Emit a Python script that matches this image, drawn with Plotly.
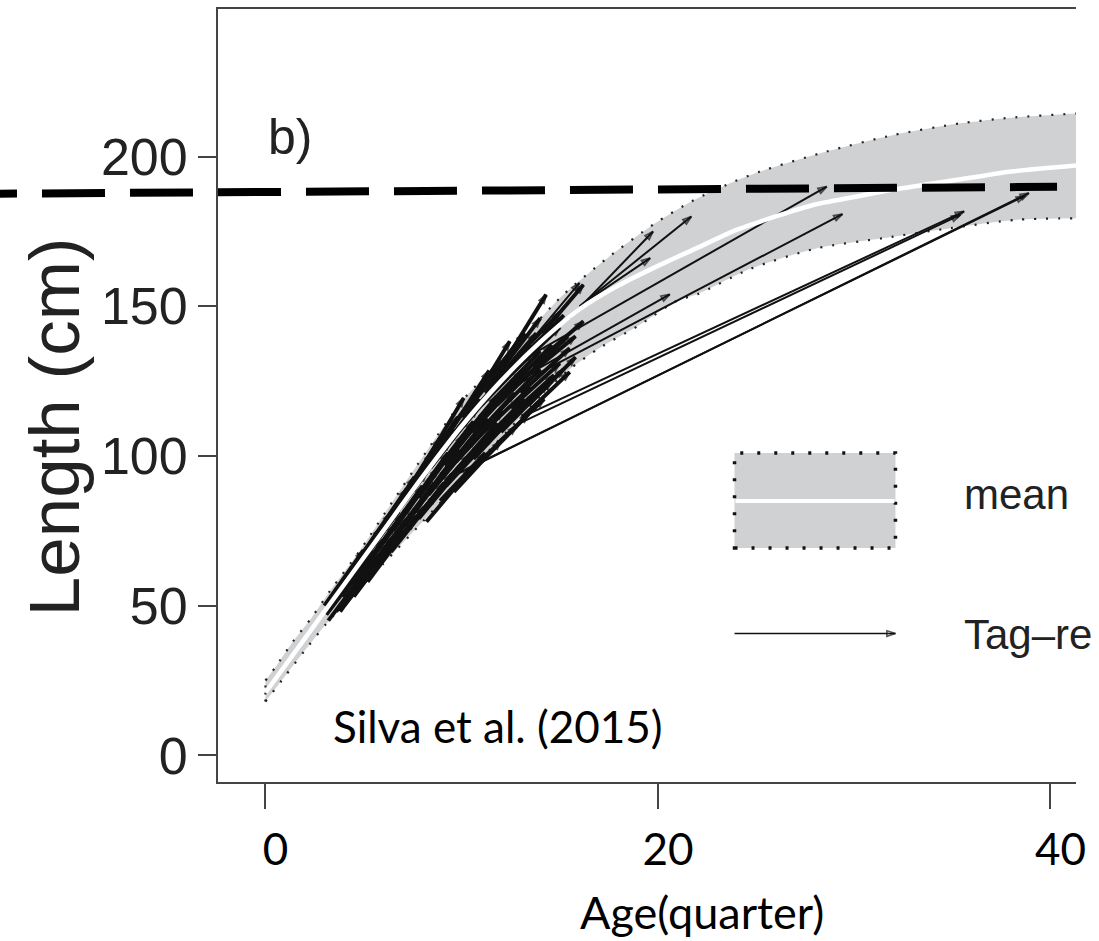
import plotly.graph_objects as go

# ---- growth curve: mean and envelope (age in quarters, length in cm) ----
mean_age = [0, 2, 4, 6, 8, 10, 12, 14, 16, 18, 20, 22, 24, 26, 28, 30, 32, 34, 36, 38, 41.3]
mean_len = [21, 39, 57, 75, 93, 110, 125, 138, 149, 157, 163.5, 169.5, 175.5, 180, 184,
            186.5, 189, 191, 193, 195, 197]

upper_age = [0, 0.5, 1.4, 2.35, 3.3, 4.8, 6.5, 8.2, 10.1, 11.4, 13.3, 15.2, 17.4, 19.8,
             21.7, 23.5, 25.2, 28.6, 32, 35.4, 38, 41.3]
upper_len = [25, 29.4, 38, 46, 55, 68.3, 85, 101.5, 119, 128, 141, 154, 166, 177.5,
             185, 190.6, 195, 201.7, 207.2, 211.1, 213, 214.4]

lower_age = [0, 1, 2, 3.1, 4, 6, 8, 10, 12, 14, 15.5, 17, 19, 21, 22, 24.7, 28.1, 31.5,
             34.9, 38.3, 41.3]
lower_len = [18, 26.5, 35, 44, 50.5, 64, 78, 92, 106, 120, 129, 136, 143.5, 152, 154,
             162.5, 169.4, 172.8, 176.1, 178.9, 179.4]

# ---- tag-recapture records: age/length at release and at recapture ----
release_age = [
    3.0, 4.2, 5.4, 6.6, 7.8, 9.0, 10.2, 11.3, 12.2,
    3.4, 4.8, 6.0, 7.3, 8.5, 9.8, 11.0, 12.4,
    3.1, 4.4, 5.7, 7.0, 8.2, 9.4, 10.7, 12.0,
    3.6, 4.9, 6.3, 7.6, 8.9, 10.3, 11.6, 13.0,
    4.0, 5.3, 6.7, 8.0, 9.4, 10.8, 12.2,
    5.8, 7.2, 8.6, 10.0, 11.4, 12.8,
    8.2, 9.6, 11.0, 12.2,
    9.5, 10.6, 11.8, 12.8,
    3.7, 5.0, 6.2, 7.5, 8.7, 10.0, 11.2, 12.6,
    3.3, 4.6, 5.9, 7.1, 8.4, 9.7, 11.0, 12.3,
    3.9, 5.1, 6.5, 7.8, 9.1, 10.5, 11.8, 13.2,
    4.3, 5.6, 7.0, 8.3, 9.7, 11.1, 12.5,
    6.4, 7.8, 9.2, 10.6, 12.0, 13.4,
    8.9, 10.4, 11.8, 13.1,
    3.2, 3.8, 4.5, 5.2,
    11.5, 12.9, 13.6, 10.9,
    15.5, 16.0, 16.2, 12.5, 12.0, 12.0, 13.0, 12.8, 9.9, 10.2, 14.1,
]
release_len = [
    50, 60, 71, 82, 94, 104, 114, 122, 128,
    52, 63, 75, 87, 98, 109, 118, 127,
    47, 57, 69, 80, 91, 101, 111, 120,
    48, 59, 71, 82, 93, 104, 113, 121,
    50, 60, 71, 82, 93, 103, 112,
    64, 75, 86, 96, 105, 114,
    78, 88, 98, 110,
    110, 119, 127, 133,
    56, 68, 79, 91, 102, 113, 121, 130,
    50, 62, 74, 85, 96, 107, 117, 126,
    53, 63, 75, 86, 97, 108, 117, 126,
    54, 64, 76, 87, 98, 108, 116,
    68, 79, 90, 99, 108, 117,
    85, 95, 104, 113,
    45, 48, 53, 58,
    118, 124, 130, 113,
    146, 150, 151, 124, 128, 121, 112.8, 110.5, 94.4, 95.5, 141,
]
recapture_age = [
    5.0, 6.4, 7.6, 8.9, 10.1, 11.4, 12.45, 14.3, 16.0,
    5.6, 6.9, 8.3, 9.6, 10.9, 12.2, 13.5, 14.8,
    5.3, 6.6, 8.0, 9.3, 10.6, 11.8, 13.1, 14.6,
    5.8, 7.2, 8.6, 9.9, 11.3, 12.7, 14.0, 15.5,
    6.2, 7.6, 9.1, 10.4, 11.8, 13.2, 14.7,
    8.1, 9.5, 11.0, 12.4, 13.8, 15.2,
    10.5, 12.0, 13.4, 14.6,
    12.0, 13.2, 14.0, 15.0,
    5.9, 7.2, 8.5, 9.8, 11.0, 12.4, 13.8, 15.2,
    5.4, 6.8, 8.2, 9.4, 10.8, 12.1, 13.6, 15.0,
    6.0, 7.4, 8.8, 10.1, 11.5, 12.9, 14.3, 15.8,
    6.5, 7.9, 9.3, 10.7, 12.1, 13.5, 15.0,
    8.7, 10.2, 11.6, 13.0, 14.4, 15.8,
    11.2, 12.8, 14.2, 15.5,
    5.6, 6.3, 7.0, 7.7,
    14.0, 15.4, 16.2, 13.4,
    19.75, 21.7, 19.6, 20.6, 28.6, 29.4, 35.6, 35.4, 38.9, 38.7, 16.2,
]
recapture_len = [
    68.5, 81, 93, 106, 119.4, 128.5, 138.3, 153.9, 157.8,
    72, 84, 97, 109, 119, 127.5, 137, 143.5,
    66, 77, 90, 101, 111.5, 120, 128.5, 137,
    67, 79, 91, 102, 112.5, 121, 129, 136,
    68, 78.5, 91, 100.5, 111, 119, 127,
    83, 94, 104, 113, 121, 129,
    96, 105, 114, 125,
    131, 141, 146, 148,
    76, 89, 101, 113, 123, 133, 141, 147,
    68.5, 81.5, 94.5, 105, 116, 125.5, 134.5, 143,
    72, 83.5, 96, 107, 116.5, 125, 133, 140,
    73, 84, 96, 106, 115, 123, 131,
    87, 98, 107, 116, 124, 133,
    101, 110, 119, 128,
    66, 71, 75, 80,
    135, 140, 145, 129,
    175, 180, 166.1, 154, 190, 180.8, 181.7, 180.5, 187.8, 186.9, 157.2,
]

# reference length drawn as a dashed line across the panel (left end, right end)
ref_line_len = [187.5, 189.9]

x_ticks = [0, 20, 40]
y_ticks = [0, 50, 100, 150, 200]

X_RANGE = [-2.42, 41.3]
Y_RANGE = [-8.9, 249.3]

FONT_R = "Liberation Sans, Arial, Helvetica, sans-serif"
FONT_C = "Lato, Carlito, Calibri, sans-serif"
BAND_FILL = "rgb(208,209,211)"
INK = "#111111"

fig = go.Figure()

# envelope fill between lower and upper curves
fig.add_trace(go.Scatter(x=lower_age, y=lower_len, mode="lines",
                         line=dict(width=0, shape="spline", smoothing=0.7),
                         hoverinfo="skip", showlegend=False))
fig.add_trace(go.Scatter(x=upper_age, y=upper_len, mode="lines", fill="tonexty",
                         fillcolor=BAND_FILL,
                         line=dict(width=0, shape="spline", smoothing=0.7),
                         hoverinfo="skip", showlegend=False))

# dotted outline of the envelope
dotted = dict(color="#222222", width=2.2, dash="2px,10px", shape="spline", smoothing=0.7)
for xs, ys in ((upper_age, upper_len), (lower_age, lower_len)):
    fig.add_trace(go.Scatter(x=xs, y=ys, mode="lines", line=dotted,
                             hoverinfo="skip", showlegend=False))
fig.add_trace(go.Scatter(x=[lower_age[0], upper_age[0]], y=[lower_len[0], upper_len[0]],
                         mode="lines", line=dict(color="#222222", width=2.2, dash="2px,5px"),
                         hoverinfo="skip", showlegend=False))


# tag-recapture arrows: short and long records drawn as two polylines with gaps,
# arrow markers at the recapture points
def arrow_trace(records, width):
    ax, ay, sym, size = [], [], [], []
    for x0, y0, x1, y1 in records:
        ax += [x0, x1, None]
        ay += [y0, y1, None]
        sym += ["circle", "arrow-open", "circle"]
        size += [0, 9, 0]
    return go.Scatter(
        x=ax, y=ay, mode="lines+markers",
        line=dict(color=INK, width=width),
        marker=dict(symbol=sym, size=size, angleref="previous", color=INK,
                    line=dict(color=INK, width=1.8)),
        hoverinfo="skip", showlegend=False)


records = list(zip(release_age, release_len, recapture_age, recapture_len))
short_recs = [r for r in records if r[2] - r[0] <= 3.0]
long_recs = [r for r in records if r[2] - r[0] > 3.0]
fig.add_trace(arrow_trace(short_recs, 4.0))
fig.add_trace(arrow_trace(long_recs, 2.0))

# mean growth curve on top
fig.add_trace(go.Scatter(x=mean_age, y=mean_len, mode="lines",
                         line=dict(color="white", width=4.5, shape="spline", smoothing=0.7),
                         hoverinfo="skip", showlegend=False))

# ---- in-panel legend ----
LEG_X = [23.9, 32.1]
fig.add_shape(type="rect", xref="x", yref="y", x0=LEG_X[0], x1=LEG_X[1], y0=69.3, y1=101,
              fillcolor=BAND_FILL, line=dict(color="#111111", width=3.5, dash="3px,14px"),
              layer="below")
fig.add_shape(type="line", xref="x", yref="y", x0=LEG_X[0] + 0.05, x1=LEG_X[1] - 0.05,
              y0=85, y1=85, line=dict(color="white", width=4), layer="below")
fig.add_trace(go.Scatter(
    x=[LEG_X[0], LEG_X[1]], y=[40.7, 40.7], mode="lines+markers",
    line=dict(color=INK, width=1.6),
    marker=dict(symbol=["circle", "arrow-open"], size=[0, 9], angleref="previous",
                color=INK, line=dict(color=INK, width=1.6)),
    hoverinfo="skip", showlegend=False))
for label, ylab in (("mean", 87), ("Tag\u2013re", 40.5)):
    fig.add_annotation(x=35.5, y=ylab, xref="x", yref="y", text=label, showarrow=False,
                       xanchor="left", yanchor="middle",
                       font=dict(family=FONT_R, size=42, color="#222222"))

# dashed reference length, running past the left edge of the panel
def to_paper_y(v):
    return (v - Y_RANGE[0]) / (Y_RANGE[1] - Y_RANGE[0])

fig.add_shape(type="line", xref="paper", yref="paper",
              x0=-0.3077, x1=0.9779,
              y0=to_paper_y(ref_line_len[0]), y1=to_paper_y(ref_line_len[1]),
              line=dict(color="black", width=8, dash="63px,25px"), layer="above")

# panel label, source note and axis titles
fig.add_annotation(x=0.05, y=206.5, xref="x", yref="y", text="b)", showarrow=False,
                   xanchor="left", yanchor="middle",
                   font=dict(family=FONT_R, size=50, color="#222222"))
fig.add_annotation(x=11.85, y=9.7, xref="x", yref="y", text="Silva et al. (2015)",
                   showarrow=False, xanchor="center", yanchor="middle",
                   font=dict(family=FONT_C, size=44, color="black"))
fig.add_annotation(x=0.564, y=-0.168, xref="paper", yref="paper", text="Age(quarter)",
                   showarrow=False, xanchor="center", yanchor="middle",
                   font=dict(family=FONT_C, size=45, color="black"))
fig.add_annotation(x=-0.191, y=0.459, xref="paper", yref="paper", text="Length (cm)",
                   textangle=-90, showarrow=False, xanchor="center", yanchor="middle",
                   font=dict(family=FONT_R, size=71, color="#222222"))

fig.update_xaxes(range=X_RANGE, tickvals=x_ticks, ticktext=[str(v) for v in x_ticks],
                 ticks="outside", ticklen=25, tickwidth=1.6, tickcolor="#444444",
                 showline=True, linecolor="#444444", linewidth=1.8, mirror=True,
                 showgrid=False, zeroline=False, ticklabelshift=10, ticklabelstandoff=3,
                 tickfont=dict(family=FONT_C, size=44, color="black"))
fig.update_yaxes(range=Y_RANGE, tickvals=y_ticks, ticktext=[str(v) for v in y_ticks],
                 ticks="outside", ticklen=18, tickwidth=1.6, tickcolor="#444444",
                 showline=True, linecolor="#444444", linewidth=1.8, mirror=False,
                 showgrid=False, zeroline=False, ticklabelstandoff=0,
                 tickfont=dict(family=FONT_R, size=52, color="#222222"))

fig.update_layout(width=1099, height=941, margin=dict(l=218, r=23, t=7, b=159),
                  paper_bgcolor="white", plot_bgcolor="white", showlegend=False)

fig.write_html("out.html")
